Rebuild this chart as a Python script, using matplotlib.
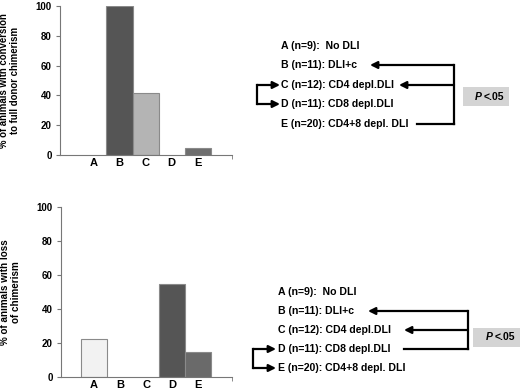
import matplotlib
matplotlib.use("Agg")
import matplotlib.pyplot as plt
from matplotlib.patches import Rectangle

plt.rcParams['font.family'] = ['Liberation Sans', 'DejaVu Sans']
plt.rcParams['font.weight'] = 'bold'

categories = ["A", "B", "C", "D", "E"]
conversion_pct = [0, 100, 41.7, 0, 5]
loss_pct = [22.2, 0, 0, 54.5, 15]
conversion_colors = ["#ffffff", "#555555", "#b4b4b4", "#ffffff", "#6e6e6e"]
loss_colors = ["#f2f2f2", "#ffffff", "#ffffff", "#555555", "#6a6a6a"]
yticks = [0, 20, 40, 60, 80, 100]
group_labels = ["A (n=9):  No DLI", "B (n=11): DLI+c", "C (n=12): CD4 depl.DLI",
                "D (n=11): CD8 depl.DLI", "E (n=20): CD4+8 depl. DLI"]
ylabel_top = "% of animals with conversion\nto full donor chimerism"
ylabel_bottom = "% of animals with loss\nof chimerism"

W, H = 520, 391
fig = plt.figure(figsize=(W / 100, H / 100), dpi=100)


def px_axes(l, t, r, b):
    return fig.add_axes([l / W, 1 - b / H, (r - l) / W, (b - t) / H])


def bar_panel(ax, values, colors, ylabel, labx, labsize):
    x = list(range(len(categories)))
    for xi, v, c in zip(x, values, colors):
        if v > 0:
            ax.bar(xi, v, width=1.0, color=c, edgecolor="#8a8a8a", linewidth=0.8)
    ax.set_xlim(-1.27, 5.3)
    ax.set_ylim(0, 100)
    ax.set_yticks(yticks)
    ax.set_xticks(x)
    ax.set_xticklabels(categories, fontsize=8, fontweight='bold')
    ax.tick_params(axis='x', length=0, pad=2.5)
    ax.set_xticks([5.3], minor=True)
    ax.tick_params(axis='x', which='minor', length=3, color="#777777")
    ax.tick_params(axis='y', length=3, color="#777777", labelsize=7, pad=3)
    for s in ['top', 'right']:
        ax.spines[s].set_visible(False)
    for s in ['left', 'bottom']:
        ax.spines[s].set_color("#777777")
        ax.spines[s].set_linewidth(0.8)
    ax.set_ylabel(ylabel, fontsize=labsize, fontweight='bold', linespacing=1.15)
    ax.yaxis.set_label_coords(labx, 0.5)


ax1 = px_axes(60, 6, 232, 155)
bar_panel(ax1, conversion_pct, conversion_colors, ylabel_top, -0.232, 6.9)
ax2 = px_axes(61, 207, 232, 377)
bar_panel(ax2, loss_pct, loss_colors, ylabel_bottom, -0.232, 7.1)

# overlay in pixel coordinates
ov = fig.add_axes([0, 0, 1, 1])
ov.set_xlim(0, W)
ov.set_ylim(H, 0)
ov.axis('off')
ov.patch.set_alpha(0)

LW = 1.6
arrow_kw = dict(arrowstyle='-|>,head_length=0.6,head_width=0.3', lw=LW, color='black',
                shrinkA=0, shrinkB=0, mutation_scale=7)


def legend_block(x0, ys):
    for lab, y in zip(group_labels, ys):
        ov.text(x0, y, lab, fontsize=7.6, fontweight='bold', va='center', ha='left')


def arrow(x_from, x_to, y):
    ov.annotate("", xy=(x_to, y), xytext=(x_from, y), arrowprops=arrow_kw)


def pbox(l, t, r, b):
    ov.add_patch(Rectangle((l, t), r - l, b - t, facecolor="#d4d4d4", edgecolor='none'))
    cx, cy = (l + r) / 2, (t + b) / 2
    ov.text(cx - 4, cy, "P", fontsize=7.5, fontstyle='italic', fontweight='bold', ha='right', va='center')
    ov.text(cx - 2, cy, "<.05", fontsize=7.5, fontweight='bold', ha='left', va='center')


# top legend
ys_top = [46, 65, 85, 104, 124]
legend_block(281, ys_top)
vx = 454
ov.plot([vx, vx], [ys_top[1], ys_top[4]], color='black', lw=LW, solid_capstyle='projecting')
arrow(vx, 370, ys_top[1])
arrow(vx, 399, ys_top[2])
ov.plot([417, vx], [ys_top[4], ys_top[4]], color='black', lw=LW)
ov.plot([257, 257], [ys_top[2], ys_top[3]], color='black', lw=LW, solid_capstyle='projecting')
arrow(257, 280, ys_top[2])
arrow(257, 280, ys_top[3])
pbox(463, 87, 509, 106)

# bottom legend
ys_bot = [292, 311, 330, 349, 368]
legend_block(278, ys_bot)
vx2 = 468
ov.plot([vx2, vx2], [ys_bot[1], ys_bot[3]], color='black', lw=LW, solid_capstyle='projecting')
arrow(vx2, 368, ys_bot[1])
arrow(vx2, 404, ys_bot[2])
ov.plot([404, vx2], [ys_bot[3], ys_bot[3]], color='black', lw=LW)
ov.plot([253, 253], [ys_bot[3], ys_bot[4]], color='black', lw=LW, solid_capstyle='projecting')
arrow(253, 276, ys_bot[3])
arrow(253, 276, ys_bot[4])
pbox(473, 328, 520, 347)

fig.savefig("out.png", dpi=100)
